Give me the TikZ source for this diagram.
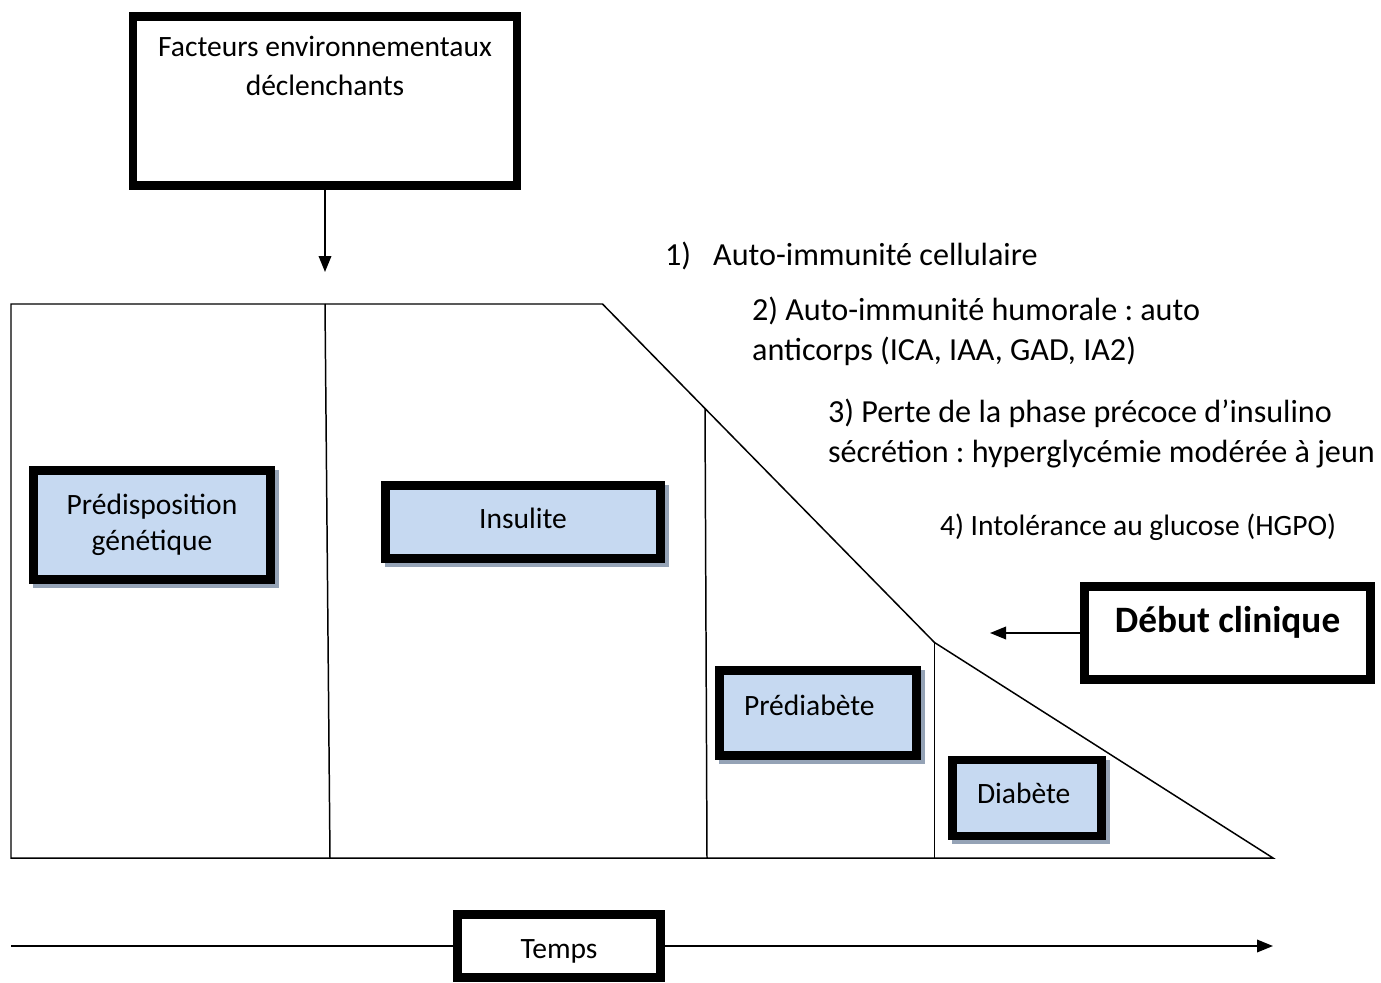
\documentclass[tikz,border=0pt]{standalone}
\usepackage{fontspec}
\setmainfont{Carlito}
\frenchspacing
\usetikzlibrary{arrows.meta,positioning}
\definecolor{phaseblue}{HTML}{C6D9F1}
\definecolor{shadowgray}{HTML}{95A3B6}

\begin{document}
\begin{tikzpicture}[scale=1]
			\tikzstyle{every node}=[align=center, inner sep=1pt, font=\fontsize{16.8}{22.2}\selectfont]
			\tikzstyle{thinline}=[line width=0.85pt]
			\tikzstyle{box}=[draw, line width=5pt, inner sep=0pt]
			\tikzstyle{phase}=[box, fill=phaseblue, preaction={draw=shadowgray, fill=shadowgray, transform canvas={xshift=0.08cm, yshift=-0.08cm}}]
			\tikzstyle{steptext}=[anchor=base west, align=left, font=\fontsize{18.3}{22.2}\selectfont]
			\tikzstyle{arrow}=[line width=1.1pt, -{Triangle[length=0.32cm, width=0.25cm]}]
			\useasboundingbox (0,0) rectangle (27.62,-19.66);

				% trigger box
				\node[box, minimum width=7.68cm, minimum height=3.37cm] (facteurs) at (6.5,-2.02) {};
				\node[anchor=base, inner sep=0pt] (facteurstxt) at (6.5,-1.92) {Facteurs environnementaux\\déclenchants};
				\coordinate (facteursend) at (6.5,-5.44);
				\draw[arrow] (facteurs.south) -- (facteursend);

				% stages outline
				\coordinate (tl) at (0.22,-6.08);
				\coordinate (tr) at (12.05,-6.08);
				\coordinate (k1) at (14.1,-8.17);
				\coordinate (k2) at (18.69,-12.85);
				\coordinate (br) at (25.46,-17.16);
				\coordinate (bl) at (0.22,-17.16);
				\draw[thinline] (tl) -- (tr) -- (k2) -- (br) -- (bl) -- cycle;
				\draw[thinline] (6.5,-6.08) -- (6.6,-17.16);
				\draw[thinline] (k1) -- (14.14,-17.16);
				\draw[thinline] (k2) -- (k2 |- bl);

				% stages
				\node[phase, minimum width=4.74cm, minimum height=2.18cm, font=\fontsize{16.8}{20.5}\selectfont] (predisp) at (3.04,-10.5) {Prédisposition\\génétique};
				\node[phase, minimum width=5.5cm, minimum height=1.46cm, text height=0.42cm, text depth=0.16cm] (insulite) at (10.46,-10.44) {Insulite};
				\node[phase, text width=2.96cm, align=left, inner xsep=0.49cm, minimum height=1.7cm, text height=0.42cm, text depth=0.32cm] (prediabete) at (16.36,-14.26) {Prédiabète};
				\node[phase, text width=2cm, align=left, inner xsep=0.49cm, minimum height=1.52cm, text height=0.42cm, text depth=0.2cm] (diabete) at (20.54,-15.96) {Diabète};

				% steps
				\node[steptext] (step1) at (13.26,-5.3) {1)\hspace{0.44cm}Auto-immunité cellulaire};
				\node[steptext] (step2) at (15,-7.2) {\makebox[8.96cm][s]{2) Auto-immunité humorale : auto}\\anticorps (ICA, IAA, GAD, IA2)};
				\node[steptext] (step3) at (16.52,-9.24) {3) Perte de la phase précoce d’insulino\\sécrétion : hyperglycémie modérée à jeun};
				\node[anchor=base west] (step4) at (18.76,-10.7) {4) Intolérance au glucose (HGPO)};

				% onset
				\node[box, minimum width=5.72cm, text height=0.91cm, text depth=0.95cm, font=\bfseries\fontsize{21.2}{26}\selectfont] (debut) at (24.55,-12.66) {Début clinique};
				\coordinate (debutend) at (19.8,-12.66);
				\draw[arrow] (debut.west) -- (debutend);

				% time axis
				\node[box, minimum width=4.06cm, minimum height=1.26cm, text height=0.48cm, text depth=0cm] (temps) at (11.18,-18.92) {Temps};
				\coordinate (tstart) at (0.22,-18.92);
				\coordinate (tend) at (25.46,-18.92);
				\draw[line width=1.1pt] (tstart) -- (temps.west);
				\draw[arrow] (temps.east) -- (tend);
			\end{tikzpicture}
\end{document}
